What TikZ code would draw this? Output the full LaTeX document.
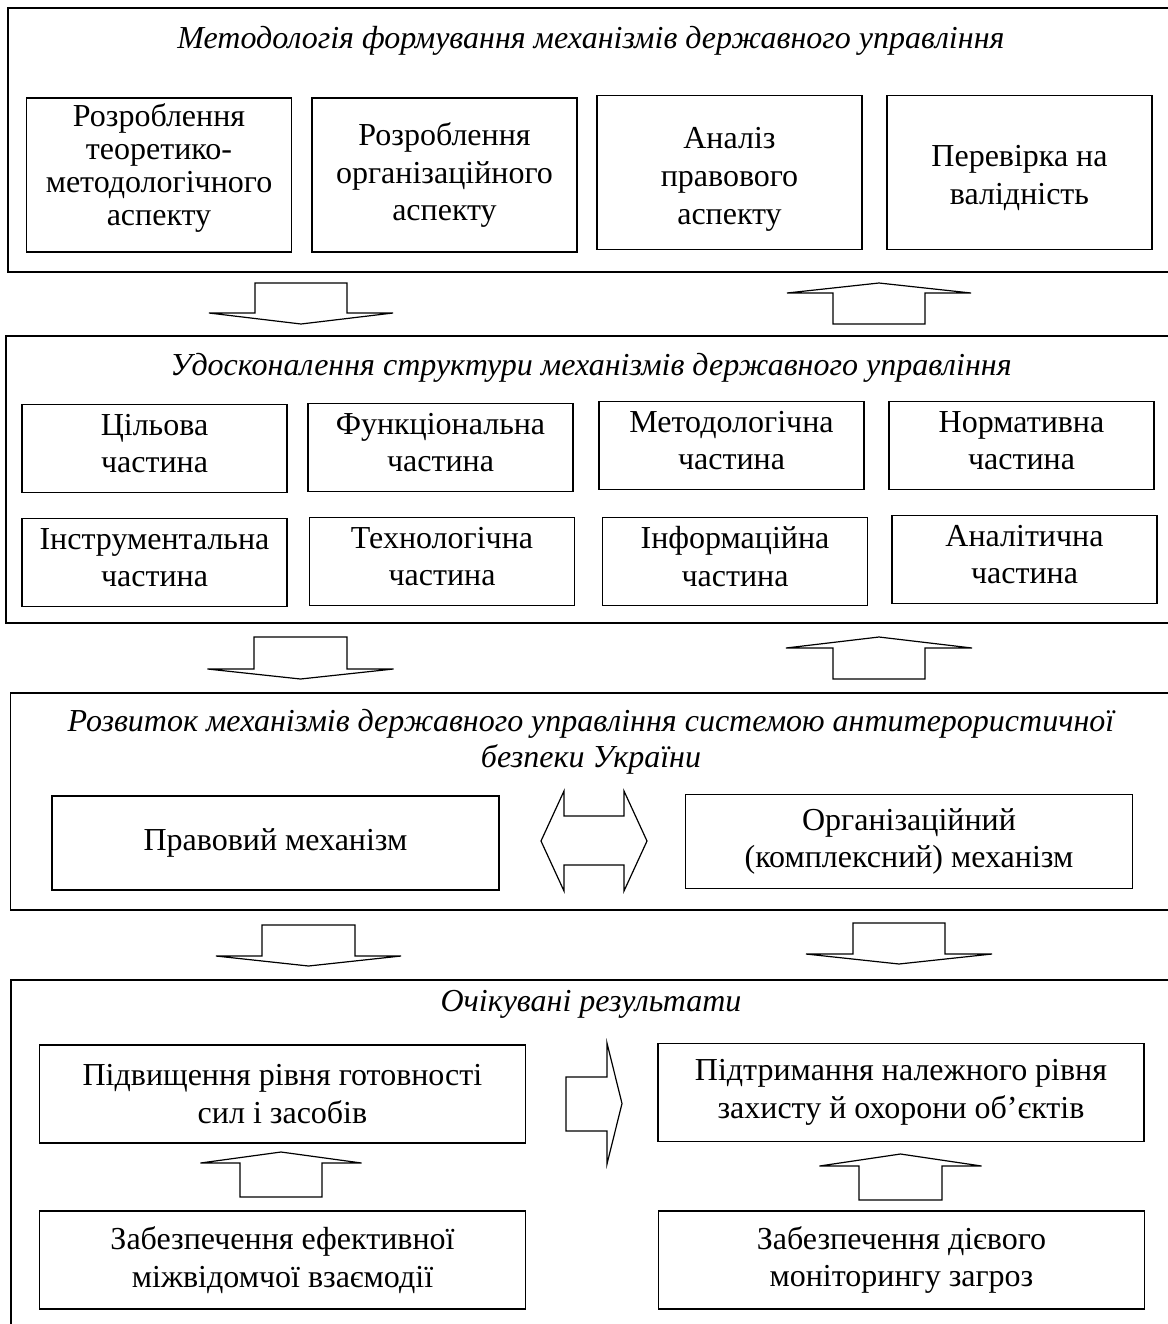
\documentclass[tikz,border=0pt]{standalone}
\usepackage{fontspec}
\setmainfont{Liberation Serif}

% block arrows: centre x, start row, tip row, body half, head half, head length
\newcommand{\blkdown}[6]{%
  \draw[blk] (#1-#4,#2) -- (#1+#4,#2) -- (#1+#4,#3-#6) -- (#1+#5,#3-#6) -- (#1,#3)
    -- (#1-#5,#3-#6) -- (#1-#4,#3-#6) -- cycle;}
\newcommand{\blkup}[6]{%
  \draw[blk] (#1-#4,#2) -- (#1+#4,#2) -- (#1+#4,#3+#6) -- (#1+#5,#3+#6) -- (#1,#3)
    -- (#1-#5,#3+#6) -- (#1-#4,#3+#6) -- cycle;}

\tikzset{
  frame/.style = {draw, line width=0.9pt},
  box/.style = {draw, line width=0.75pt, align=center, inner sep=2pt,
    font=\fontsize{16}{18.8}\selectfont},
  box1/.style = {box, minimum width=132.5pt, minimum height=77pt},
  box2/.style = {box, minimum width=132.5pt, minimum height=44pt, text depth=5pt},
  box3/.style = {box, minimum width=223.5pt, minimum height=47pt},
  box4/.style = {box, minimum width=243pt, minimum height=49pt},
  ttl/.style = {align=center, anchor=base, font=\fontsize{16}{17.8}\selectfont\itshape},
  blk/.style = {draw, line width=0.6pt, line join=miter},
}

\begin{document}
\begin{tikzpicture}[x=0.5pt, y=-0.5pt]
  \useasboundingbox (0,0) rectangle (1168,1324);
  \clip (0,0) rectangle (1168,1324);

  % methodology
  \draw[frame] (8,8) rectangle (1180,272);
  \node[ttl] (t1) at (591,48) {Методологія формування механізмів державного управління};
  \node[box1, font=\fontsize{16}{16.5}\selectfont, text depth=10.5pt] (teor) at (159,175) {Розроблення\\теоретико-\\методологічного\\аспекту};
  \node[box1] (org) at (444.5,175) {Розроблення\\організаційного\\аспекту};
  \node[box1] (prav) at (729.5,172.5) {\rule{0pt}{17.5pt}Аналіз\\правового\\аспекту};
  \node[box1] (valid) at (1019.5,172.5) {\rule{0pt}{16pt}Перевірка на\\валідність};

  \blkdown{301}{283}{324}{46}{92}{11}
  \blkup{879}{324}{283}{46}{92}{10}

  % structure
  \draw[frame] (6,336) rectangle (1180,623);
  \node[ttl] (t2) at (591,375) {Удосконалення структури механізмів державного управління};
  \node[box2] (cil) at (154.5,448.5) {Цільова\\частина};
  \node[box2] (func) at (440.5,447.5) {Функціональна\\частина};
  \node[box2] (metod) at (731.5,445.5) {Методологічна\\частина};
  \node[box2] (norm) at (1021.5,445.5) {Нормативна\\частина};
  \node[box2] (instr) at (154.5,562.5) {Інструментальна\\частина};
  \node[box2] (tech) at (442,561.5) {Технологічна\\частина};
  \node[box2] (inf) at (735,561.5) {Інформаційна\\частина};
  \node[box2] (anal) at (1024.5,559.5) {Аналітична\\частина};

  \blkdown{300.5}{637}{679}{46.5}{93}{10}
  \blkup{879}{679}{637}{46}{93}{11}

  % development
  \draw[frame] (10.5,693) rectangle (1180,910);
  \node[ttl] (t3) at (591,767) {Розвиток механізмів державного управління системою антитерористичної\\безпеки України};
  \node[box3] (pravmech) at (275.5,843) {Правовий механізм};
  \node[box3] (orgmech) at (909,841.5) {Організаційний\\(комплексний) механізм};
  \draw[blk] (541,841) -- (564,791) -- (564,816) -- (624,816) -- (624,791) -- (647,841)
    -- (624,891) -- (624,865) -- (564,865) -- (564,891) -- cycle;

  \blkdown{308.5}{925}{966}{46.5}{92.5}{10}
  \blkdown{899}{923}{964}{46}{93}{10}

  % results
  \draw[frame] (11,980) rectangle (1180,1340);
  \node[ttl] (t4) at (591,1011) {Очікувані результати};
  \node[box4] (gotov) at (282.5,1094) {Підвищення рівня готовності\\сил і засобів};
  \node[box4] (zakh) at (901,1092.5) {Підтримання належного рівня\\захисту й охорони об’єктів};
  \node[box4] (vzaem) at (282.5,1260) {Забезпечення ефективної\\міжвідомчої взаємодії};
  \node[box4] (monit) at (901.5,1260) {Забезпечення дієвого\\моніторингу загроз};
  \draw[blk] (566,1077) -- (607,1077) -- (607,1043) -- (622,1103.5) -- (607,1164)
    -- (607,1131) -- (566,1131) -- cycle;

  \blkup{281}{1197}{1152}{41}{80.5}{11}
  \blkup{900.5}{1200}{1154}{41.5}{81}{12}
\end{tikzpicture}
\end{document}
